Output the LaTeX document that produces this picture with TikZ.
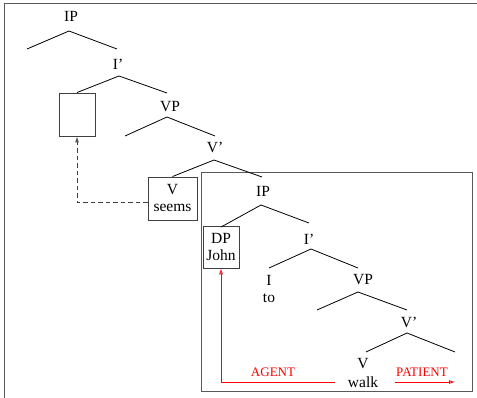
\documentclass[tikz,border=0pt]{standalone}
\usepackage{fontspec}
\setmainfont{Liberation Serif}
\usetikzlibrary{arrows.meta}
\begin{document}
\begin{tikzpicture}[x=1pt,y=-1pt,
  lbl/.style={anchor=base,inner sep=0pt,font=\fontsize{15.5}{17}\selectfont},
  role/.style={anchor=base,inner sep=0pt,text=red,font=\fontsize{13}{15}\selectfont},
  branch/.style={draw=black,line width=0.8pt},
  boxnode/.style={draw=black!75,line width=0.9pt,inner sep=0pt,align=center,
    font=\fontsize{15.5}{17}\selectfont},
  frame/.style={draw=black!65,line width=0.95pt},
  tip/.style={-{Latex[open,length=6pt,width=4pt]}}
]
\useasboundingbox (0,0) rectangle (477,398);
% outer frame (top and left only)
\coordinate (oA) at (4,398);
\coordinate (oB) at (4,3.5);
\coordinate (oC) at (477,3.5);
\draw[frame] (oA) -- (oB) -- (oC);
% inner box
\node[frame,draw,inner sep=0pt,minimum width=271pt,minimum height=219pt] (inner) at (336.5,281.5) {};

% ---- upper tree
\node[lbl] (IPa) at (71,22) {IP};
\coordinate (IPaT) at (69,31);
\coordinate (IPaL) at (27,49);
\coordinate (IPaR) at (117,49);
\draw[branch] (IPaL) -- (IPaT) -- (IPaR);

\node[lbl] (Iba) at (118,70) {I'};
\coordinate (IbaT) at (119,76);
\coordinate (IbaR) at (167,93);
\node[boxnode,minimum width=36pt,minimum height=43pt] (empty) at (77,114.5) {};
\draw[branch] (empty.north) -- (IbaT) -- (IbaR);

\node[lbl] (VPa) at (170,112) {VP};
\coordinate (VPaT) at (167,117);
\coordinate (VPaL) at (125,136);
\coordinate (VPaR) at (215,136);
\draw[branch] (VPaL) -- (VPaT) -- (VPaR);

\node[lbl] (Vba) at (215,153) {V'};
\coordinate (VbaT) at (214,160);
\coordinate (VbaR) at (262,177);
\node[boxnode,minimum width=49pt,minimum height=43pt] (seems) at (172.5,198.5) {V\\seems};
\draw[branch] (seems.north) -- (VbaT) -- (VbaR);

% dashed movement arrow
\coordinate (dk) at (77,202);
\draw[draw=black!75,line width=0.9pt,dash pattern=on 4.5pt off 3pt,tip]
  (seems.west |- dk) -- (dk) -- (empty.south);

% ---- embedded tree
\node[lbl] (IPb) at (263,197) {IP};
\coordinate (IPbT) at (261,205);
\coordinate (IPbR) at (309,223);
\node[boxnode,minimum width=36pt,minimum height=42pt] (john) at (221,247) {DP\\John};
\draw[branch] ([yshift=-1.5pt]john.north) -- (IPbT) -- (IPbR);

\node[lbl] (Ibb) at (309,245) {I'};
\coordinate (IbbT) at (311,249);
\coordinate (IbbL) at (269,268);
\coordinate (IbbR) at (358,268);
\draw[branch] (IbbL) -- (IbbT) -- (IbbR);

\node[lbl] (I) at (269,286) {I};
\node[lbl] (to) at (269,303) {to};

\node[lbl] (VPb) at (363,285) {VP};
\coordinate (VPbT) at (358,292);
\coordinate (VPbL) at (317,310);
\coordinate (VPbR) at (407,310);
\draw[branch] (VPbL) -- (VPbT) -- (VPbR);

\node[lbl] (Vbb) at (409,328) {V'};
\coordinate (VbbT) at (407,333);
\coordinate (VbbL) at (366,352);
\coordinate (VbbR) at (455,352);
\draw[branch] (VbbL) -- (VbbT) -- (VbbR);

\node[lbl] (V) at (363,369) {V};
\node[lbl] (walk) at (363,388) {walk};

% thematic roles
\node[role] (agent) at (273,376) {AGENT};
\node[role] (patient) at (422,376) {PATIENT};
\coordinate (agS) at (335,382);
\coordinate (agC) at (221,382);
\draw[red,line width=0.8pt,tip] (agS) -- (agC) -- (john.south);
\coordinate (paS) at (395,382);
\coordinate (paE) at (455,382);
\draw[red,line width=0.8pt,tip] (paS) -- (paE);
\end{tikzpicture}
\end{document}
